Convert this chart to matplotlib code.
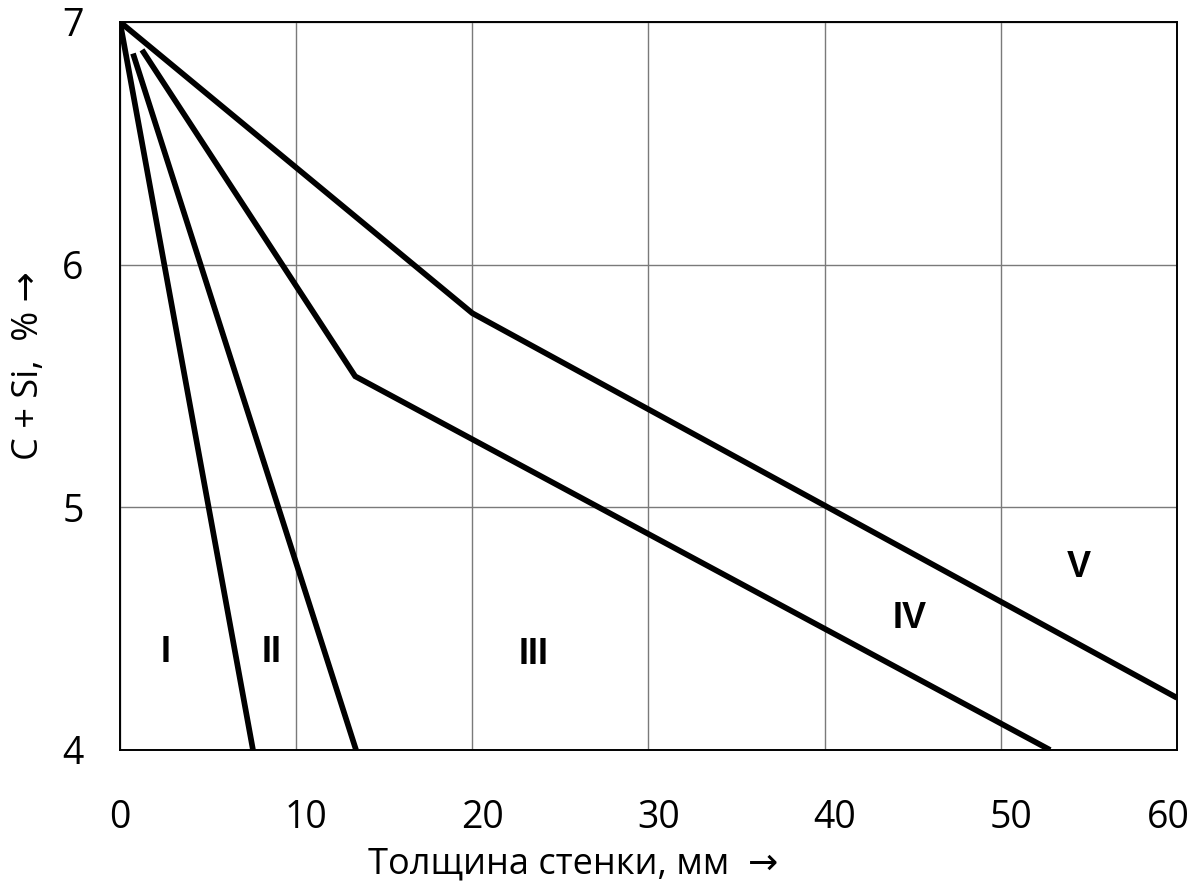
"""Диаграмма структуры чугуна: C + Si в зависимости от толщины стенки."""

import matplotlib
matplotlib.use("Agg")
import matplotlib.pyplot as plt
from matplotlib.transforms import offset_copy

plt.rcParams["font.family"] = ["Open Sans", "DejaVu Sans"]

# граничные линии между областями (толщина, мм / C + Si, %)
line_1_x = [0.0, 7.55]
line_1_y = [7.0, 4.0]
line_2_x = [0.74, 13.4]
line_2_y = [6.87, 4.0]
line_4_x = [1.25, 13.35, 52.8]
line_4_y = [6.885, 5.54, 4.0]
line_5_x = [0.0, 20.0, 60.0]
line_5_y = [7.0, 5.80, 4.215]

# подписи областей
region_names = ["I", "II", "III", "IV", "V"]
region_x = [2.6, 8.6, 23.5, 44.8, 54.4]
region_y = [4.40, 4.40, 4.395, 4.54, 4.75]

x_ticks = [0, 10, 20, 30, 40, 50, 60]
y_ticks = [4, 5, 6, 7]

fig = plt.figure(figsize=(12.01, 8.86), dpi=100)
ax = fig.add_axes([0.0999, 0.1535, 0.8801, 0.8217])

for xs, ys in [(line_1_x, line_1_y), (line_2_x, line_2_y),
               (line_4_x, line_4_y), (line_5_x, line_5_y)]:
    ax.plot(xs, ys, color="black", lw=4.1, solid_capstyle="butt",
            solid_joinstyle="miter", zorder=3)

for name, x, y in zip(region_names, region_x, region_y):
    ax.text(x, y, name, ha="center", va="center", fontsize=26,
            fontweight="bold", family=["Liberation Sans", "DejaVu Sans"])

ax.set_xlim(0, 60)
ax.set_ylim(4, 7)
ax.set_xticks(x_ticks)
ax.set_yticks(y_ticks)
ax.set_xticklabels([])
ax.grid(True, color="#7a7a7a", lw=1.0)
ax.set_axisbelow(True)
for sp in ax.spines.values():
    sp.set_color("black")
    sp.set_linewidth(1.4)
ax.tick_params(axis="x", length=0)
ax.tick_params(axis="y", length=0, pad=26, labelsize=27)

# подписи оси X: как в оригинале, двузначные чуть сдвинуты, последняя прижата к краю
for v in x_ticks:
    dx = 0 if v == 0 else (-6.5 if v == x_ticks[-1] else 7)
    tr = offset_copy(ax.get_xaxis_transform(), fig=fig, x=dx, y=-49, units="points")
    ax.text(v, 0, str(v), transform=tr, ha="center", va="center",
            fontsize=27, clip_on=False)

fig.text(573 / 1201, 1 - 864 / 886, "Толщина стенки, мм  →",
         ha="center", va="center", fontsize=26)
fig.text(29 / 1201, 1 - 366 / 886, "C + Si,  % →", rotation=90,
         ha="center", va="center", fontsize=26)

fig.savefig("out.png", dpi=100)
plt.close(fig)
